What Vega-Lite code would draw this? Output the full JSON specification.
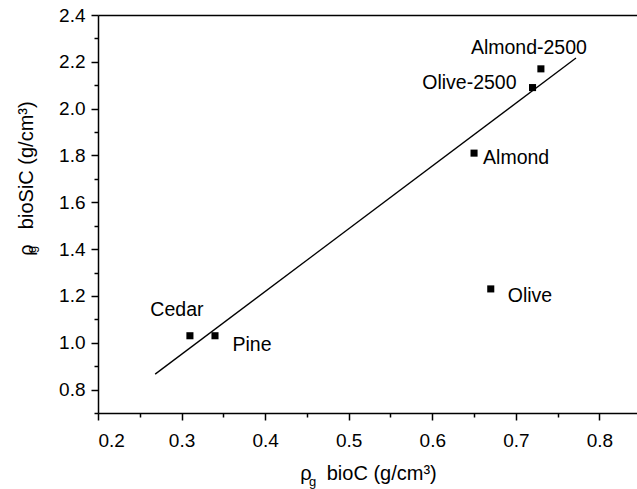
{
  "$schema": "https://vega.github.io/schema/vega-lite/v6.json",
  "width": 539,
  "height": 398,
  "autosize": {"type": "none"},
  "padding": {"left": 98, "top": 15, "right": 0, "bottom": 76},
  "background": "white",
  "config": {
    "view": {"stroke": null},
    "axis": {
      "grid": false,
      "labelFont": "Liberation Sans",
      "labelFontSize": 19,
      "labelColor": "black",
      "domainColor": "black",
      "domainWidth": 1.5,
      "tickColor": "black",
      "tickWidth": 1.5,
      "tickSize": 7,
      "titleFont": "Liberation Sans",
      "titleFontSize": 20,
      "titleFontWeight": "normal",
      "titleColor": "black"
    },
    "text": {"font": "Liberation Sans", "fontSize": 19.5, "color": "black"}
  },
  "datasets": {
    "points": [
      {"name": "Cedar", "x": 0.31, "y": 1.03},
      {"name": "Pine", "x": 0.34, "y": 1.03},
      {"name": "Almond", "x": 0.65, "y": 1.81},
      {"name": "Olive", "x": 0.67, "y": 1.23},
      {"name": "Olive-2500", "x": 0.72, "y": 2.09},
      {"name": "Almond-2500", "x": 0.73, "y": 2.17}
    ],
    "fit": [
      {"x": 0.2684, "y": 0.866},
      {"x": 0.772, "y": 2.216}
    ]
  },
  "resolve": {"axis": {"x": "independent", "y": "independent"}},
  "layer": [
    {
      "data": {"name": "fit"},
      "mark": {"type": "line", "color": "black", "strokeWidth": 1.3},
      "encoding": {
        "x": {"field": "x", "type": "quantitative",
          "scale": {"domain": [0.2, 0.845], "nice": false, "zero": false},
          "axis": {"orient": "bottom", "values": [0.25, 0.35, 0.45, 0.55, 0.65, 0.75], "labels": false, "domain": false, "tickSize": 4,
            "title": "g", "titleFontSize": 13, "titleX": 214, "titleY": 72, "titleBaseline": "alphabetic", "titleAlign": "center"}},
        "y": {"field": "y", "type": "quantitative",
          "scale": {"domain": [0.7, 2.4], "nice": false, "zero": false},
          "axis": {"orient": "left", "values": [0.7, 0.9, 1.1, 1.3, 1.5, 1.7, 1.9, 2.1, 2.3], "labels": false, "domain": false, "tickSize": 4,
            "title": "g", "titleFontSize": 13, "titleX": -62.5, "titleY": 234, "titleBaseline": "alphabetic", "titleAlign": "center", "titleAngle": 270}}
      }
    },
    {
      "data": {"name": "points"},
      "mark": {"type": "square", "color": "black", "filled": true, "opacity": 1, "size": 50},
      "encoding": {
        "x": {"field": "x", "type": "quantitative",
          "axis": {"orient": "bottom", "values": [0.2, 0.3, 0.4, 0.5, 0.6, 0.7, 0.8], "format": ".1f", "labelPadding": 11,
            "title": "ρ\u00a0\u00a0\u2009bioC (g/cm³)", "titleX": 270, "titleY": 66, "titleBaseline": "alphabetic", "titleAlign": "center"}},
        "y": {"field": "y", "type": "quantitative",
          "axis": {"orient": "left", "values": [0.8, 1.0, 1.2, 1.4, 1.6, 1.8, 2.0, 2.2, 2.4], "format": ".1f", "labelPadding": 6,
            "title": "ρ\u00a0\u00a0\u2009bioSiC (g/cm³)", "titleX": -66, "titleY": 163, "titleBaseline": "alphabetic", "titleAlign": "center", "titleAngle": 270}}
      }
    },
    {
      "data": {"name": "points"},
      "transform": [{"filter": "datum.name === 'Cedar'"}],
      "mark": {"type": "text", "align": "center", "baseline": "alphabetic", "dx": -13, "dy": -20},
      "encoding": {
        "x": {"field": "x", "type": "quantitative",
          "axis": {"orient": "top", "ticks": false, "labels": false, "title": null, "domain": true}},
        "y": {"field": "y", "type": "quantitative", "axis": null},
        "text": {"field": "name"}
      }
    },
    {
      "data": {"name": "points"},
      "transform": [{"filter": "datum.name === 'Pine'"}],
      "mark": {"type": "text", "align": "left", "baseline": "alphabetic", "dx": 17.5, "dy": 15},
      "encoding": {
        "x": {"field": "x", "type": "quantitative", "axis": null},
        "y": {"field": "y", "type": "quantitative", "axis": null},
        "text": {"field": "name"}
      }
    },
    {
      "data": {"name": "points"},
      "transform": [{"filter": "datum.name === 'Almond'"}],
      "mark": {"type": "text", "align": "left", "baseline": "alphabetic", "dx": 9, "dy": 10.5},
      "encoding": {
        "x": {"field": "x", "type": "quantitative", "axis": null},
        "y": {"field": "y", "type": "quantitative", "axis": null},
        "text": {"field": "name"}
      }
    },
    {
      "data": {"name": "points"},
      "transform": [{"filter": "datum.name === 'Olive'"}],
      "mark": {"type": "text", "align": "left", "baseline": "alphabetic", "dx": 17, "dy": 13.5},
      "encoding": {
        "x": {"field": "x", "type": "quantitative", "axis": null},
        "y": {"field": "y", "type": "quantitative", "axis": null},
        "text": {"field": "name"}
      }
    },
    {
      "data": {"name": "points"},
      "transform": [{"filter": "datum.name === 'Olive-2500'"}],
      "mark": {"type": "text", "align": "right", "baseline": "alphabetic", "dx": -16, "dy": 1.5},
      "encoding": {
        "x": {"field": "x", "type": "quantitative", "axis": null},
        "y": {"field": "y", "type": "quantitative", "axis": null},
        "text": {"field": "name"}
      }
    },
    {
      "data": {"name": "points"},
      "transform": [{"filter": "datum.name === 'Almond-2500'"}],
      "mark": {"type": "text", "align": "center", "baseline": "alphabetic", "dx": -12, "dy": -15},
      "encoding": {
        "x": {"field": "x", "type": "quantitative", "axis": null},
        "y": {"field": "y", "type": "quantitative", "axis": null},
        "text": {"field": "name"}
      }
    }
  ]
}
